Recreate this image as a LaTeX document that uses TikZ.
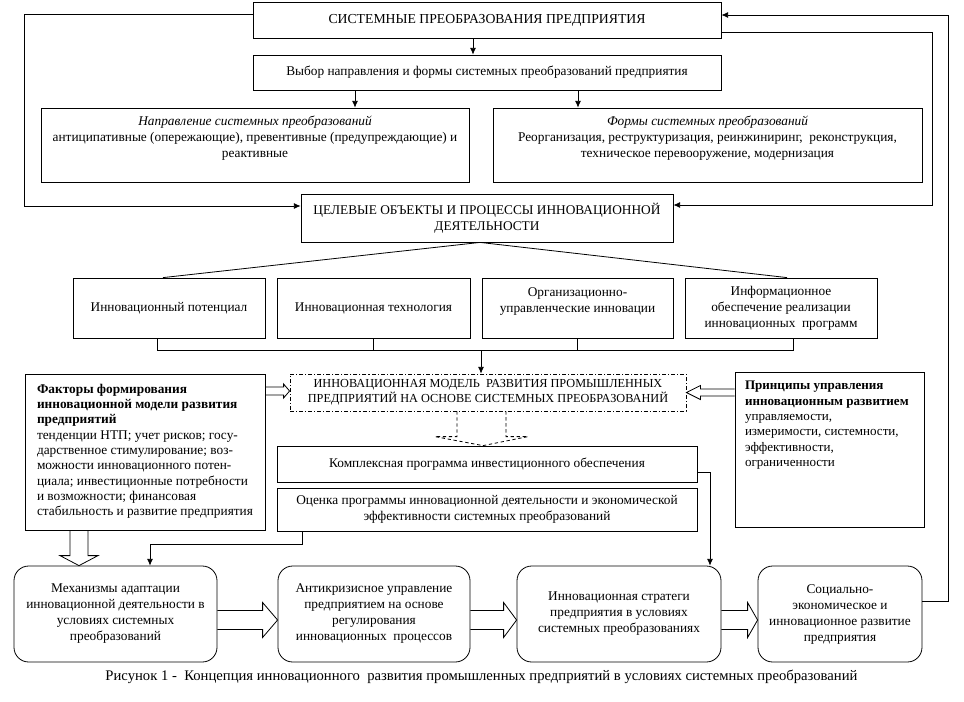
\documentclass[tikz,border=0pt]{standalone}
\usepackage{fontspec}
\setmainfont{Liberation Serif}
\usetikzlibrary{calc,arrows.meta}
\tikzset{
 bx/.style={draw, line width=0.6pt, inner sep=0pt, align=center, font=\fontsize{10}{12}\selectfont},
 sz/.style 2 args={minimum width={#1*0.75pt}, minimum height={#2*0.75pt}},
 rbx/.style={bx, rounded corners=11pt},
 arr/.style={line width=0.6pt, -{Latex[length=5pt,width=4.5pt]}},
 ln/.style={line width=0.6pt},
 dsh/.style={line width=0.6pt, dash pattern=on 2.5pt off 2pt},
 dd/.style={dash pattern=on 3pt off 1.5pt on 0.8pt off 1.5pt},
}
\newcommand\hollowright[5]{%
 \coordinate (ht) at ($(#2.west)+(0,6)$);
 \coordinate (hs) at (#1.east |- ht);
 \draw[ln] ($(hs)+(0,-#3)$) -- ($(ht)+(-#5,-#3)$) -- ($(ht)+(-#5,-#4)$) -- (ht) -- ($(ht)+(-#5,#4)$) -- ($(ht)+(-#5,#3)$) -- ($(hs)+(0,#3)$);}
\begin{document}
\begin{tikzpicture}[x=0.75pt,y=-0.75pt]
\useasboundingbox (0,0) rectangle (964,701);
% boxes
\node[bx,sz={468}{36},font=\fontsize{10.3}{12}\selectfont] (top) at (487,20) {СИСТЕМНЫЕ ПРЕОБРАЗОВАНИЯ ПРЕДПРИЯТИЯ};
\node[bx,sz={468}{35}] (choice) at (487,72.5) {Выбор направления и формы системных преобразований предприятия};
\node[bx,sz={428}{74}] (napr) at (255,145) {\textit{Направление системных преобразований}\\антиципативные (опережающие), превентивные (предупреждающие) и\\реактивные\\~};
\node[bx,sz={429}{74}] (formy) at (707.5,145) {\textit{Формы системных преобразований}\\Реорганизация, реструктуризация, реинжиниринг,\ \ реконструкция,\\техническое перевооружение, модернизация\\~};
\node[bx,sz={372}{48}] (celev) at (487,218) {ЦЕЛЕВЫЕ ОБЪЕКТЫ И ПРОЦЕССЫ ИННОВАЦИОННОЙ\\ДЕЯТЕЛЬНОСТИ};
\node[bx,sz={192}{60}] (b1) at (169,308) {Инновационный потенциал};
\node[bx,sz={193}{60}] (b2) at (373.5,308) {Инновационная технология};
\node[bx,sz={191}{60}] (b3) at (577.5,308) {Организационно-\\управленческие инновации\\~};
\node[bx,sz={192}{60}] (b4) at (781,308) {Информационное\\обеспечение реализации\\инновационных\ \ программ};
\node[bx,dd,sz={396}{37},font=\fontsize{9.2}{11.5}\selectfont] (model) at (488,392.5) {ИННОВАЦИОННАЯ МОДЕЛЬ\ \ РАЗВИТИЯ ПРОМЫШЛЕННЫХ\\ПРЕДПРИЯТИЙ НА ОСНОВЕ СИСТЕМНЫХ ПРЕОБРАЗОВАНИЙ};
\node[bx,sz={240}{156},inner xsep=9pt,inner ysep=7.5pt] (fact) at (145,452) {\parbox[c][102pt][t]{162pt}{\fontsize{10}{11.5}\selectfont\raggedright
\textbf{Факторы формирования\\инновационной модели развития\\предприятий}\\тенденции НТП; учет рисков; госу-\\дарственное стимулирование; воз-\\можности инновационного потен-\\циала; инвестиционные потребности\\и возможности; финансовая\\стабильность и развитие предприятия\par}};
\node[bx,sz={189}{155},inner xsep=7.5pt,inner ysep=7pt] (prin) at (829.5,449.5) {\parbox[c][102.25pt][t]{126.75pt}{\fontsize{9.8}{11.5}\selectfont\raggedright
\textbf{Принципы управления\\инновационным развитием}\\управляемости,\\измеримости, системности,\\эффективности,\\ограниченности\par}};
\node[bx,sz={420}{36}] (kompl) at (487,464) {Комплексная программа инвестиционного обеспечения};
\node[bx,sz={420}{43}] (ocenka) at (487,509.5) {Оценка программы инновационной деятельности и экономической\\эффективности системных преобразований};
\node[rbx,sz={203}{96}] (mech) at (115.5,614) {Механизмы адаптации\\инновационной деятельности в\\условиях системных\\преобразований};
\node[rbx,sz={192}{96}] (anti) at (374,614) {Антикризисное управление\\предприятием на основе\\регулирования\\инновационных\ \ процессов};
\node[rbx,sz={204}{96}] (strat) at (619,614) {Инновационная стратеги\\предприятия в условиях\\системных преобразованиях};
\node[rbx,sz={164}{96}] (soc) at (840,614) {Социально-\\экономическое и\\инновационное развитие\\предприятия};
\node[font=\fontsize{11}{12}\selectfont] (cap) at (481.5,677) {Рисунок 1 -\ \ Концепция инновационного\ \ развития промышленных предприятий в условиях системных преобразований};
% connectors
\draw[arr] ($(top.south)+(-14,0)$) -- ($(choice.north)+(-14,0)$);
\coordinate (c1) at ($(choice.south)+(-132,0)$);
\draw[arr] (c1) -- (c1 |- napr.north);
\coordinate (c2) at ($(choice.south)+(91,0)$);
\draw[arr] (c2) -- (c2 |- formy.north);
\draw[arr] ($(top.west)+(0,-6)$) -- ++(-228,0) |- ($(celev.west)+(0,-12)$);
\draw[arr] ($(top.east)+(0,12)$) -- ++(211,0) |- ($(celev.east)+(0,-13)$);
\draw[arr] ($(soc.east)+(0,-13)$) -- ++(26,0) |- ($(top.east)+(0,-5)$);
\draw[ln] ($(b1.north)+(-6,0)$) -- ($(celev.south)+(-7,0)$) -- ($(b4.north)+(6,0)$);
\coordinate (bl) at ($(b1.south)+(-12,12)$);
\coordinate (br) at ($(b4.south)+(12,12)$);
\draw[ln] ($(b1.south)+(-12,0)$) -- (bl) -- (br) -- ($(b4.south)+(12,0)$);
\draw[ln] (b2.south) -- (b2.south |- bl);
\draw[ln] (b3.south) -- (b3.south |- bl);
\coordinate (mt) at ($(model.north)+(-7,0)$);
\draw[arr] (mt |- bl) -- (mt);
% hollow arrow factors -> model
\coordinate (ft) at ($(model.west)+(0,-1.5)$);
\coordinate (fs) at (fact.east |- ft);
\draw[ln] ($(fs)+(0,-4)$) -- ($(ft)+(-6,-4)$) -- ($(ft)+(-6,-7)$) -- (ft) -- ($(ft)+(-6,7)$) -- ($(ft)+(-6,4)$) -- ($(fs)+(0,4)$);
% hollow arrow principles -> model
\coordinate (pt) at (model.east);
\coordinate (ps) at (prin.west |- pt);
\draw[ln] ($(ps)+(0,-3.5)$) -- ($(pt)+(14,-3.5)$) -- ($(pt)+(14,-7)$) -- (pt) -- ($(pt)+(14,7)$) -- ($(pt)+(14,3.5)$) -- ($(ps)+(0,3.5)$);
% dashed hollow arrow model -> kompl
\coordinate (dt) at ($(kompl.north)+(-4,0)$);
\draw[dsh] ($(model.south)+(-31,0)$) -- ($(dt)+(-26,-9)$) -- ($(dt)+(-48,-9)$) -- (dt) -- ($(dt)+(45,-9)$) -- ($(dt)+(23,-9)$) -- ($(model.south)+(18,0)$);
% kompl -> strat
\draw[arr] ($(kompl.east)+(0,8)$) -| ($(strat.north)+(91,0)$);
% ocenka -> mech
\draw[arr] ($(ocenka.south)+(-185,0)$) |- ($(mech.north)+(34.5,-21)$) -- ($(mech.north)+(34.5,0)$);
% hollow arrow factors -> mech
\coordinate (mt2) at ($(mech.north)+(-36.5,0)$);
\draw[ln] ($(fact.south)+(-75,0)$) -- ($(mt2)+(-9,-10)$) -- ($(mt2)+(-19,-10)$) -- (mt2) -- ($(mt2)+(19,-10)$) -- ($(mt2)+(9,-10)$) -- ($(fact.south)+(-57,0)$);
% bottom hollow arrows
\hollowright{mech}{anti}{9.5}{17.5}{15}
\hollowright{anti}{strat}{9.5}{17.5}{13}
\hollowright{strat}{soc}{9.5}{17.5}{10}
\end{tikzpicture}
\end{document}
